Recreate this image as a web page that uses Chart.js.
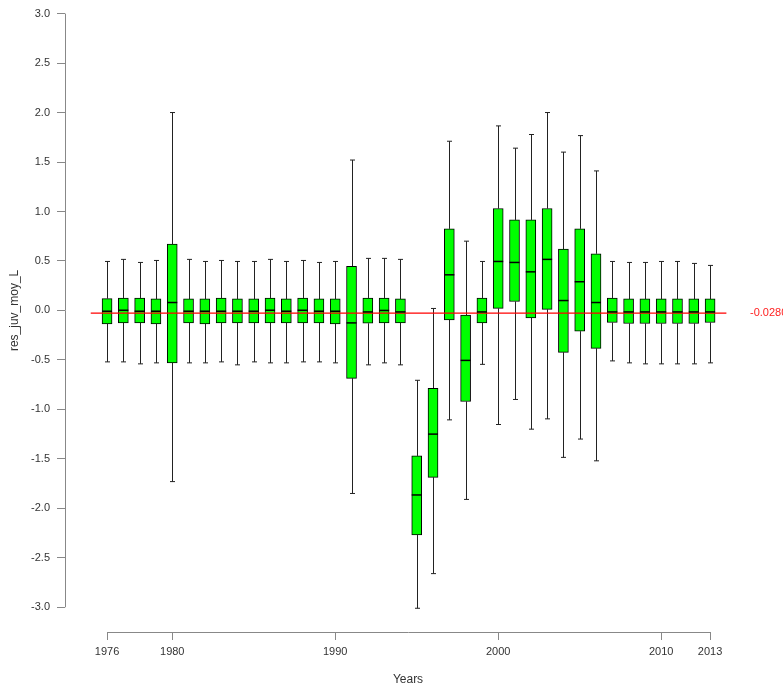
<!DOCTYPE html>
<html>
<head>
<meta charset="utf-8">
<script src="https://cdn.jsdelivr.net/npm/chart.js@4.4.1/dist/chart.umd.min.js"></script>
<style>
html, body { margin: 0; padding: 0; background: #fff; }
</style>
</head>
<body>
<canvas id="boxChart" width="783" height="692"></canvas>
<script>
// one box per year
const years = [1976, 1977, 1978, 1979, 1980, 1981, 1982, 1983, 1984, 1985,
               1986, 1987, 1988, 1989, 1990, 1991, 1992, 1993, 1994, 1995,
               1996, 1997, 1998, 1999, 2000, 2001, 2002, 2003, 2004, 2005,
               2006, 2007, 2008, 2009, 2010, 2011, 2012, 2013];
const whiskerLow = [-0.52, -0.52, -0.54, -0.53, -1.73, -0.53, -0.53, -0.52, -0.55, -0.52,
                    -0.53, -0.53, -0.52, -0.52, -0.53, -1.85, -0.55, -0.53, -0.55, -3.01,
                    -2.66, -1.106, -1.91, -0.545, -1.153, -0.90, -1.20, -1.096, -1.485, -1.30,
                    -1.52, -0.51, -0.53, -0.54, -0.54, -0.54, -0.54, -0.53];
const q1 = [-0.136, -0.126, -0.126, -0.136, -0.53, -0.126, -0.136, -0.126, -0.126, -0.126,
            -0.126, -0.126, -0.126, -0.126, -0.136, -0.686, -0.13, -0.126, -0.126, -2.27,
            -1.687, -0.095, -0.92, -0.126, 0.02, 0.09, -0.075, 0.01, -0.424, -0.21,
            -0.384, -0.122, -0.132, -0.132, -0.132, -0.132, -0.132, -0.122];
const medians = [-0.008, 0.002, -0.008, -0.008, 0.08, -0.008, -0.008, -0.008, -0.008, -0.008,
                 0.002, -0.008, 0.002, -0.008, -0.008, -0.126, -0.015, 0.0, -0.015, -1.865,
                 -1.25, 0.36, -0.505, -0.015, 0.495, 0.485, 0.39, 0.516, 0.10, 0.29,
                 0.08, -0.015, -0.015, -0.015, -0.015, -0.015, -0.015, -0.015];
const q3 = [0.12, 0.126, 0.126, 0.116, 0.67, 0.116, 0.116, 0.126, 0.116, 0.116,
            0.126, 0.116, 0.126, 0.116, 0.116, 0.445, 0.126, 0.126, 0.116, -1.47,
            -0.787, 0.825, -0.048, 0.126, 1.03, 0.915, 0.915, 1.03, 0.62, 0.825,
            0.573, 0.126, 0.116, 0.116, 0.116, 0.116, 0.116, 0.116];
const whiskerHigh = [0.495, 0.516, 0.485, 0.505, 2.0, 0.516, 0.495, 0.505, 0.495, 0.495,
                     0.516, 0.495, 0.505, 0.485, 0.495, 1.52, 0.526, 0.526, 0.516, -0.706,
                     0.02, 1.71, 0.70, 0.495, 1.865, 1.64, 1.778, 2.0, 1.60, 1.767,
                     1.41, 0.495, 0.485, 0.485, 0.495, 0.495, 0.475, 0.455];

const refValue = -0.028;
const refLabel = '-0.0280';
const refSpan = [1975, 2014];
const xTicks = [1976, 1980, 1990, 2000, 2010, 2013];
const yTicks = [-3, -2.5, -2, -1.5, -1, -0.5, 0, 0.5, 1, 1.5, 2, 2.5, 3];

const FONT = '"Liberation Sans", Arial, sans-serif';
const AXIS_GREY = '#888';

const boxParts = {
    id: 'boxParts',
    beforeDatasetsDraw(chart) {
        const { ctx, scales: { x, y } } = chart;
        ctx.save();
        ctx.strokeStyle = '#222';
        ctx.lineWidth = 1;
        years.forEach((yr, i) => {
            const px = Math.round(x.getPixelForValue(yr)) + 0.5;
            const hi = y.getPixelForValue(whiskerHigh[i]);
            const lo = y.getPixelForValue(whiskerLow[i]);
            ctx.beginPath();
            ctx.moveTo(px, hi); ctx.lineTo(px, y.getPixelForValue(q3[i]));
            ctx.moveTo(px, y.getPixelForValue(q1[i])); ctx.lineTo(px, lo);
            ctx.moveTo(px - 2.5, hi); ctx.lineTo(px + 2.5, hi);
            ctx.moveTo(px - 2.5, lo); ctx.lineTo(px + 2.5, lo);
            ctx.stroke();
        });
        ctx.restore();
    },
    afterDatasetsDraw(chart) {
        const { ctx, scales: { x, y } } = chart;
        ctx.save();
        ctx.strokeStyle = '#000';
        ctx.lineWidth = 1.5;
        years.forEach((yr, i) => {
            const px = x.getPixelForValue(yr);
            const py = y.getPixelForValue(medians[i]);
            ctx.beginPath();
            ctx.moveTo(px - 5, py); ctx.lineTo(px + 5, py);
            ctx.stroke();
        });
        ctx.restore();
    },
    afterDraw(chart) {
        const { ctx, chartArea, scales: { x, y } } = chart;
        ctx.save();
        // R style axis lines, only across the tick range
        ctx.strokeStyle = AXIS_GREY;
        ctx.lineWidth = 1;
        const ax = Math.round(chartArea.left) + 0.5;
        ctx.beginPath();
        ctx.moveTo(ax, y.getPixelForValue(yTicks[0]));
        ctx.lineTo(ax, y.getPixelForValue(yTicks[yTicks.length - 1]));
        const ay = Math.round(chartArea.bottom) + 0.5;
        ctx.moveTo(x.getPixelForValue(xTicks[0]), ay);
        ctx.lineTo(x.getPixelForValue(xTicks[xTicks.length - 1]), ay);
        ctx.stroke();

        // y title
        ctx.fillStyle = '#333';
        ctx.font = '12px ' + FONT;
        ctx.textAlign = 'center';
        ctx.textBaseline = 'middle';
        const midY = (y.getPixelForValue(yTicks[0]) + y.getPixelForValue(yTicks[yTicks.length - 1])) / 2;
        ctx.translate(15, midY);
        ctx.rotate(-Math.PI / 2);
        ctx.fillText('res_juv_moy_L', 0, 0);
        ctx.restore();

        // reference value label
        ctx.save();
        ctx.fillStyle = '#ff2020';
        ctx.font = '11px ' + FONT;
        ctx.textAlign = 'left';
        ctx.textBaseline = 'middle';
        ctx.fillText(refLabel, 750, y.getPixelForValue(refValue));
        ctx.restore();
    }
};

new Chart(document.getElementById('boxChart'), {
    type: 'bar',
    data: {
        datasets: [{
            type: 'line',
            data: refSpan.map(v => ({ x: v, y: refValue })),
            borderColor: '#ff0000',
            borderWidth: 1.2,
            pointRadius: 0,
            order: 0
        }, {
            data: years.map((yr, i) => ({ x: yr, y: [q1[i], q3[i]] })),
            backgroundColor: '#00ff00',
            borderColor: '#000',
            borderWidth: 1,
            borderSkipped: false,
            barThickness: 10,
            order: 1
        }]
    },
    options: {
        responsive: false,
        animation: false,
        layout: { padding: { top: 11, right: 32, left: 0, bottom: 0 } },
        plugins: { legend: { display: false }, tooltip: { enabled: false } },
        scales: {
            x: {
                type: 'linear',
                offset: false,
                min: 1973.42, max: 2015.51,
                afterBuildTicks: s => { s.ticks = xTicks.map(v => ({ value: v })); },
                afterFit: s => { s.height = 60; },
                border: { display: false },
                grid: { offset: false, drawOnChartArea: false, tickLength: 8, color: AXIS_GREY },
                ticks: {
                    autoSkip: false, maxRotation: 0, padding: 5,
                    color: '#333', font: { family: FONT, size: 11 },
                    callback: v => String(v)
                },
                title: {
                    display: true, text: 'Years', color: '#333',
                    font: { family: FONT, size: 12 },
                    padding: { top: 0, bottom: 5 }
                }
            },
            y: {
                min: -3.25, max: 3,
                afterBuildTicks: s => { s.ticks = yTicks.map(v => ({ value: v })); },
                afterFit: s => { s.width = 65; },
                border: { display: false },
                grid: { drawOnChartArea: false, tickLength: 8, color: AXIS_GREY },
                ticks: {
                    padding: 7, color: '#333', font: { family: FONT, size: 11 },
                    callback: v => v.toFixed(1)
                }
            }
        }
    },
    plugins: [boxParts]
});
</script>
</body>
</html>
